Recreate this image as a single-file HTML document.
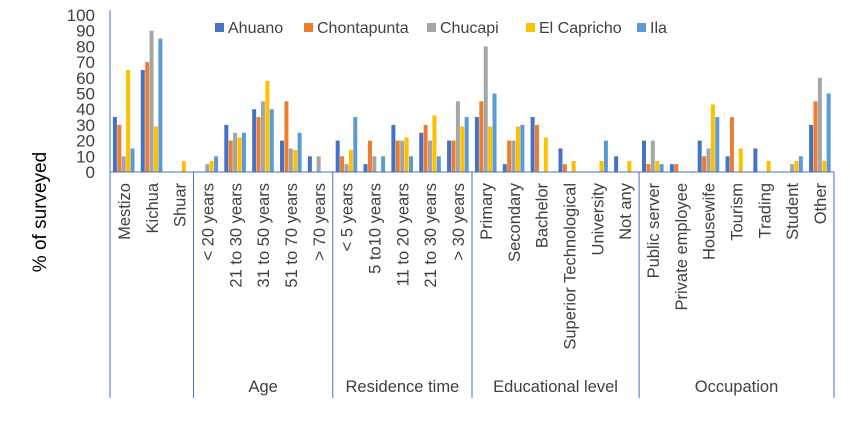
<!DOCTYPE html>
<html><head><meta charset="utf-8"><style>
body{margin:0;background:#fff;font-family:"Liberation Sans",sans-serif}
svg text{font-family:"Liberation Sans",sans-serif;fill:#404040}
</style></head><body>
<svg id="chart" width="850" height="418"></svg>
<script>
const categories=["Mestizo","Kichua","Shuar","< 20 years","21 to 30 years","31 to 50 years","51 to 70 years","> 70  years","< 5 years","5 to10 years","11 to 20 years","21 to 30 years","> 30 years","Primary","Secondary","Bachelor","Superior Technological","University","Not any","Public server","Private employee","Housewife","Tourism","Trading","Student","Other"];
const groups=[["",3],["Age",5],["Residence time",5],["Educational level",6],["Occupation",7]];
const seriesNames=["Ahuano","Chontapunta","Chucapi","El Capricho","Ila"];
const colors=["#4472C4","#ED7D31","#A5A5A5","#FFC000","#5B9BD5"];
const ahuano=[35,65,0,0,30,40,20,10,20,5,30,25,20,35,5,35,15,0,10,20,5,20,10,15,0,30];
const chontapunta=[30,70,0,0,20,35,45,0,10,20,20,30,20,45,20,30,5,0,0,5,5,10,35,0,0,45];
const chucapi=[10,90,0,5,25,45,15,10,5,10,20,20,45,80,20,0,0,0,0,20,0,15,0,0,5,60];
const elCapricho=[65,29,7,7,22,58,14,0,14,0,22,36,29,29,29,22,7,7,7,7,0,43,15,7,7,7];
const ila=[15,85,0,10,25,40,25,0,35,10,10,10,35,50,30,0,0,20,0,5,0,35,0,0,10,50];
const yTicks=[0,10,20,30,40,50,60,70,80,90,100];
const series=[ahuano,chontapunta,chucapi,elCapricho,ila];
const NS="http://www.w3.org/2000/svg";
const svg=document.getElementById("chart");
const x0=110,x1=834,yTop=15,yBot=172;
const cw=(x1-x0)/categories.length;
const y=v=>yBot-(v/100)*(yBot-yTop);
const xc=i=>x0+cw*i;
function mk(t,a){const e=document.createElementNS(NS,t);for(const k in a)e.setAttribute(k,a[k]);svg.appendChild(e);return e;}
yTicks.forEach(t=>{const e=mk("text",{x:95,y:y(t)+6,"text-anchor":"end","font-size":"17"});e.textContent=t;

});
const yt=mk("text",{x:0,y:0,"text-anchor":"middle","font-size":"19",transform:"translate(46,212) rotate(-90)",style:"fill:#000"});yt.textContent="% of surveyed";


const bw=4.4;
categories.forEach((c,i)=>{
  series.forEach((s,j)=>{
    if(s[i]<=0)return;
    const bx=xc(i)+(cw-5*bw)/2+j*bw;
    const r=mk("rect",{x:bx,y:y(s[i]),width:bw-0.4,height:yBot-y(s[i]),fill:colors[j]});
    
    
  });
  const cx=xc(i)+cw/2+6;
  const t=mk("text",{x:0,y:0,"text-anchor":"end","font-size":"16.5",transform:`translate(${cx},183) rotate(-90)`});
  t.textContent=c;
  
  
});
mk("line",{x1:x0,y1:yTop-5,x2:x0,y2:398,stroke:"#4472C4","stroke-width":1});
mk("line",{x1:x0,y1:yBot,x2:x1,y2:yBot,stroke:"#4472C4","stroke-width":1});
let acc=0;
groups.forEach(g=>{
  const gx=xc(acc+g[1]);
  mk("line",{x1:gx,y1:yBot,x2:gx,y2:398,stroke:"#4472C4","stroke-width":1});
  if(g[0]){const t=mk("text",{x:(xc(acc)+gx)/2,y:392,"text-anchor":"middle","font-size":"16.5"});t.textContent=g[0];
  
  }
  acc+=g[1];
});
const legX=[215,304,427,526,637];
seriesNames.forEach((n,j)=>{
  const r=mk("rect",{x:legX[j],y:23,width:9,height:9,fill:colors[j]});
  
  
  const t=mk("text",{x:legX[j]+13,y:33,"font-size":"16"});t.textContent=n;
  
  
});
</script>
</body></html>
